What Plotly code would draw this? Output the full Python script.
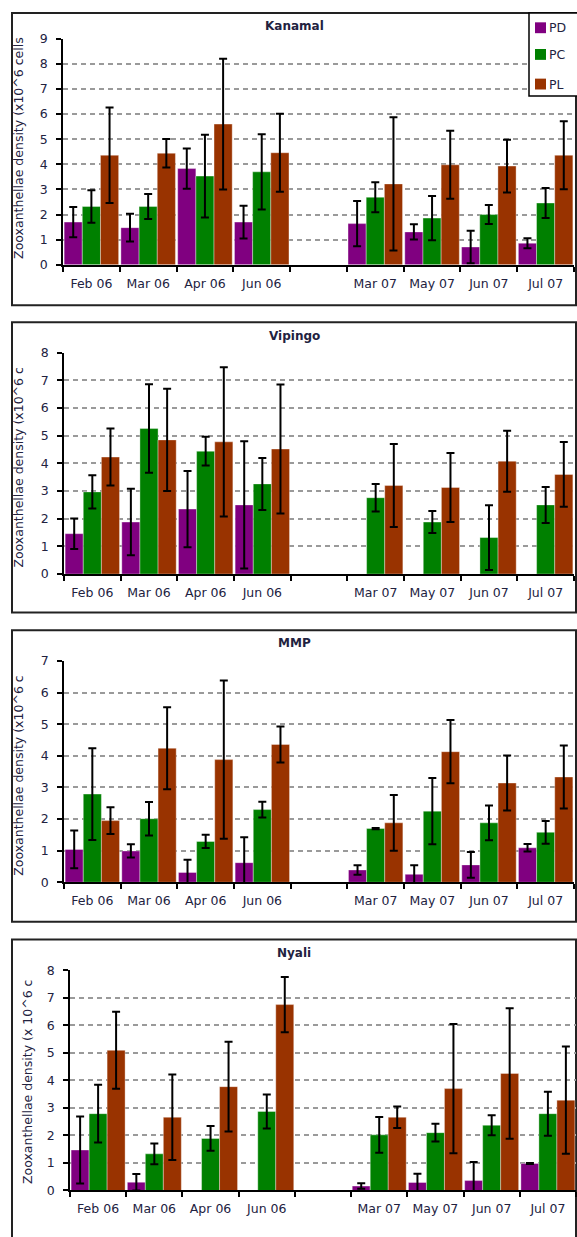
import plotly.graph_objects as go

W, H = 577, 1237

categories = ["Feb 06", "Mar 06", "Apr 06", "Jun 06", " ", "Mar 07", "May 07", "Jun 07", "Jul 07"]
series_names = ["PD", "PC", "PL"]
series_colors = ["#800080", "#008000", "#993300"]

# Kanamal
kan_PD = [1.70, 1.48, 3.83, 1.70, None, 1.64, 1.31, 0.71, 0.86]
kan_PD_err = [0.60, 0.55, 0.80, 0.65, None, 0.90, 0.30, 0.65, 0.20]
kan_PC = [2.32, 2.32, 3.53, 3.70, None, 2.69, 1.86, 2.00, 2.46]
kan_PC_err = [0.65, 0.50, 1.65, 1.50, None, 0.60, 0.88, 0.38, 0.60]
kan_PL = [4.36, 4.44, 5.60, 4.46, None, 3.22, 3.98, 3.93, 4.36]
kan_PL_err = [1.90, 0.57, 2.60, 1.55, None, 2.65, 1.35, 1.05, 1.35]

# Vipingo
vip_PD = [1.46, 1.88, 2.35, 2.50, None, None, None, None, None]
vip_PD_err = [0.55, 1.20, 1.38, 2.30, None, None, None, None, None]
vip_PC = [2.97, 5.26, 4.44, 3.26, None, 2.76, 1.88, 1.32, 2.50]
vip_PC_err = [0.60, 1.60, 0.52, 0.94, None, 0.50, 0.40, 1.17, 0.65]
vip_PL = [4.23, 4.85, 4.78, 4.52, None, 3.20, 3.13, 4.08, 3.60]
vip_PL_err = [1.03, 1.85, 2.70, 2.33, None, 1.50, 1.25, 1.10, 1.17]

# MMP
mmp_PD = [1.04, 0.99, 0.31, 0.62, None, 0.39, 0.25, 0.55, 1.09]
mmp_PD_err = [0.60, 0.21, 0.40, 0.80, None, 0.15, 0.29, 0.41, 0.12]
mmp_PC = [2.79, 2.01, 1.29, 2.30, None, 1.70, 2.25, 1.88, 1.58]
mmp_PC_err = [1.45, 0.53, 0.21, 0.25, None, 0.02, 1.05, 0.55, 0.36]
mmp_PL = [1.95, 4.24, 3.88, 4.36, None, 1.88, 4.13, 3.14, 3.33]
mmp_PL_err = [0.42, 1.30, 2.50, 0.57, None, 0.88, 1.00, 0.87, 1.00]

# Nyali
nya_PD = [1.47, 0.30, None, None, None, 0.16, 0.29, 0.36, 0.98]
nya_PD_err = [1.22, 0.30, None, None, None, 0.10, 0.32, 0.67, 0.02]
nya_PC = [2.79, 1.33, 1.89, 2.87, None, 2.02, 2.10, 2.37, 2.79]
nya_PC_err = [1.05, 0.38, 0.45, 0.62, None, 0.65, 0.32, 0.36, 0.80]
nya_PL = [5.09, 2.66, 3.77, 6.75, None, 2.66, 3.70, 4.25, 3.28]
nya_PL_err = [1.40, 1.55, 1.63, 1.00, None, 0.39, 2.35, 2.37, 1.95]

panel_titles = ["Kanamal", "Vipingo", "MMP", "Nyali"]
y_max = [9, 8, 7, 8]
y_titles = [
    "Zooxanthellae density (x10^6 cells",
    "Zooxanthellae density (x10^6 c",
    "Zooxanthellae density (x10^6 c",
    "Zooxanthellae density (x 10^6 c",
]
panel_data = [
    [(kan_PD, kan_PD_err), (kan_PC, kan_PC_err), (kan_PL, kan_PL_err)],
    [(vip_PD, vip_PD_err), (vip_PC, vip_PC_err), (vip_PL, vip_PL_err)],
    [(mmp_PD, mmp_PD_err), (mmp_PC, mmp_PC_err), (mmp_PL, mmp_PL_err)],
    [(nya_PD, nya_PD_err), (nya_PC, nya_PC_err), (nya_PL, nya_PL_err)],
]

# layout geometry in pixels
plot_x = [(63, 574), (64, 574), (64, 574), (70, 576)]
plot_y = [(31, 260), (349, 573), (661, 885), (974, 1197)]
frame_y = [(5, 301), (318, 612), (630, 925), (943, 1250)]
title_y = [18, 332, 643, 957]
ytitle_x = [19, 19, 19, 27]

TXT = "#22223f"
FONT = "DejaVu Sans"


def px_x(p):
    return p / W


def px_y(p):
    return 1 - p / H


fig = go.Figure()
layout = dict(
    width=W, height=H,
    margin=dict(l=0, r=0, t=0, b=0),
    paper_bgcolor="white", plot_bgcolor="white",
    barmode="group", bargap=0.04, bargroupgap=0,
    showlegend=False,
    font=dict(family=FONT, size=12, color=TXT),
)
annotations = []
shapes = []

for i in range(4):
    ax = "" if i == 0 else str(i + 1)
    for (vals, errs), name, col in zip(panel_data[i], series_names, series_colors):
        fig.add_trace(go.Bar(
            x=categories, y=vals, name=name,
            marker=dict(color=col, line=dict(color="rgba(255,255,255,0.6)", width=0.6)),
            error_y=dict(type="data", array=errs, visible=True,
                         color="black", thickness=2, width=4),
            xaxis="x" + ax, yaxis="y" + ax, showlegend=False,
        ))
    x0, x1 = plot_x[i]
    yt, yb = plot_y[i]
    layout["xaxis" + ax] = dict(
        domain=[px_x(x0), px_x(x1)], anchor="y" + ax,
        type="category", categoryorder="array", categoryarray=categories,
        range=[-0.5, 8.5], showgrid=False,
        showline=True, linecolor="black", linewidth=1.5,
        ticks="outside", ticklen=5, tickwidth=1.5, tickcolor="black",
        tickson="boundaries", ticklabelstandoff=6,
        tickfont=dict(family=FONT, size=12.5, color=TXT),
        fixedrange=True,
    )
    layout["yaxis" + ax] = dict(
        domain=[px_y(yb), px_y(yt)], anchor="x" + ax,
        range=[0, y_max[i]], dtick=1,
        showline=True, linecolor="black", linewidth=1.5,
        ticks="outside", ticklen=5, tickwidth=1.5, tickcolor="black",
        ticklabelstandoff=6,
        showgrid=True, gridcolor="#9a9a9a", gridwidth=1.5, griddash="5px,4px",
        zeroline=False,
        tickfont=dict(family=FONT, size=12.5, color=TXT),
        fixedrange=True,
    )
    # panel frame
    fy0, fy1 = frame_y[i]
    shapes.append(dict(type="rect", xref="paper", yref="paper",
                       x0=px_x(12), x1=px_x(576), y0=px_y(fy1), y1=px_y(fy0),
                       line=dict(color="#222222", width=2), layer="below"))
    # panel title
    annotations.append(dict(text="<b>" + panel_titles[i] + "</b>", xref="paper", yref="paper",
                            x=px_x(294), y=px_y(title_y[i]), xanchor="center", yanchor="middle",
                            showarrow=False, font=dict(family=FONT, size=12, color=TXT)))
    # y-axis title
    annotations.append(dict(text=y_titles[i], xref="paper", yref="paper", textangle=-90,
                            x=px_x(ytitle_x[i]), y=px_y(yb - 4), xanchor="center", yanchor="bottom",
                            showarrow=False, font=dict(family=FONT, size=12.5, color=TXT)))

# legend (top right of first panel)
shapes.append(dict(type="rect", xref="paper", yref="paper",
                   x0=px_x(529), x1=px_x(590), y0=px_y(89), y1=px_y(5),
                   line=dict(color="black", width=1.5), fillcolor="white"))
leg_y = [20, 47, 77]
for name, col, ly in zip(series_names, series_colors, leg_y):
    shapes.append(dict(type="rect", xref="paper", yref="paper",
                       x0=px_x(535), x1=px_x(546), y0=px_y(ly + 5.5), y1=px_y(ly - 5.5),
                       line=dict(width=0), fillcolor=col))
    annotations.append(dict(text=name, xref="paper", yref="paper",
                            x=px_x(547), y=px_y(ly), xanchor="left", yanchor="middle",
                            showarrow=False, font=dict(family=FONT, size=12.5, color=TXT)))

layout["shapes"] = shapes
layout["annotations"] = annotations
fig.update_layout(**layout)
fig.write_html("out.html")
